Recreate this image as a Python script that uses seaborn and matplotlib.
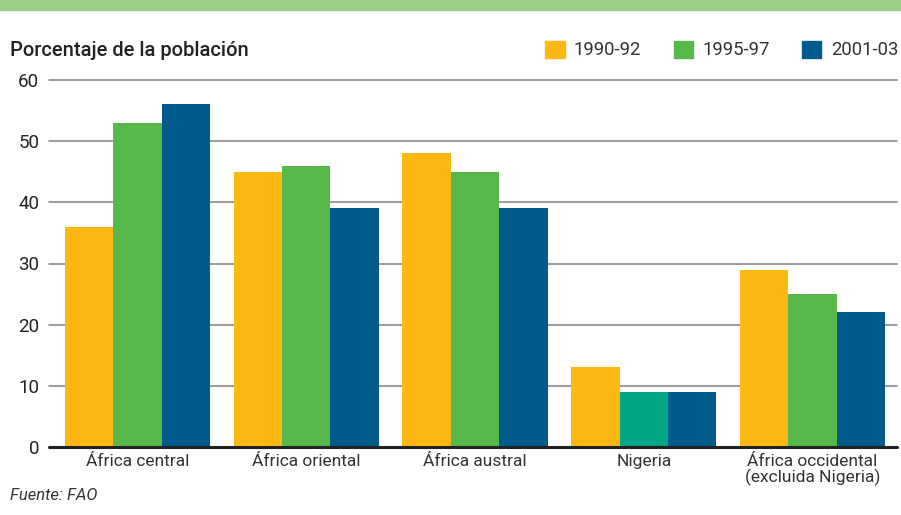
import matplotlib
matplotlib.use("Agg")
import matplotlib.pyplot as plt
import matplotlib.patches as mpatches
import seaborn as sns
import pandas as pd

regions = ["África central", "África oriental", "África austral", "Nigeria",
           "África occidental\n(excluida Nigeria)"]
periods = ["1990-92", "1995-97", "2001-03"]
v1990 = [36, 45, 48, 13, 29]
v1995 = [53, 46, 45, 9, 25]
v2001 = [56, 39, 39, 9, 22]
yticks = [0, 10, 20, 30, 40, 50, 60]

colors = {"1990-92": "#FDB813", "1995-97": "#57B84A", "2001-03": "#005A8B"}
teal = "#00A685"

rows = []
for i, r in enumerate(regions):
    for p, vals in zip(periods, [v1990, v1995, v2001]):
        rows.append({"region": r, "period": p, "value": vals[i]})
df = pd.DataFrame(rows)

sns.set_theme(style="white")
plt.rcParams["font.family"] = ["Roboto", "DejaVu Sans"]

fig = plt.figure(figsize=(9.01, 5.15), dpi=100)
ax = fig.add_axes([53 / 901, 1 - 447 / 515, (897 - 53) / 901, (447 - 80) / 515])

sns.barplot(data=df, x="region", y="value", hue="period", order=regions,
            hue_order=periods, palette=colors, saturation=1, width=0.86,
            gap=0, ax=ax, legend=False, errorbar=None)

# Nigeria 1995-97 bar drawn in teal as in the reference
bars = ax.patches
nig = regions.index("Nigeria")
bars[len(regions) * 1 + nig].set_facecolor(teal)
for b in bars:
    b.set_edgecolor("none")

ax.set_xlim(-0.5, len(regions) - 0.5)
ax.set_ylim(0, 60)
ax.set_yticks(yticks)
ax.set_xlabel("")
ax.set_ylabel("")
for s in ax.spines.values():
    s.set_visible(False)
for y in yticks[1:]:
    ax.axhline(y, color="#8a8a8a", lw=1.2, zorder=0, xmin=-4 / 844, clip_on=False)
ax.axhline(0, color="#222222", lw=2.2, zorder=3, xmin=-4 / 844, clip_on=False)
ax.tick_params(axis="y", length=0, pad=10, labelsize=13.5, colors="#222222")
ax.tick_params(axis="x", length=0, pad=5, labelsize=12.5, colors="#333333")
for lab in ax.get_xticklabels():
    lab.set_linespacing(1.0)

# top band
fig.patches.append(mpatches.Rectangle((0, 1 - 10 / 515), 1, 10 / 515,
                                      transform=fig.transFigure,
                                      color="#9CCF8A", zorder=0))

fig.text(10 / 901, 1 - 50 / 515, "Porcentaje de la población", fontsize=14.5,
         color="#222222", va="center", ha="left", weight="medium")
fig.text(10 / 901, 1 - 495 / 515, "Fuente: FAO", fontsize=12, style="italic",
         color="#333333", va="center", ha="left")

handles = [mpatches.Patch(color=colors[p], label=p) for p in periods]
leg = fig.legend(handles=handles, loc="center right",
                 bbox_to_anchor=(898 / 901, 1 - 50 / 515), ncol=3, frameon=False,
                 handlelength=1.05, handleheight=1.05, handletextpad=0.5,
                 columnspacing=1.75, fontsize=13.3, borderaxespad=0,
                 borderpad=0)
for t in leg.get_texts():
    t.set_color("#333333")

fig.savefig("out.png", dpi=100)
